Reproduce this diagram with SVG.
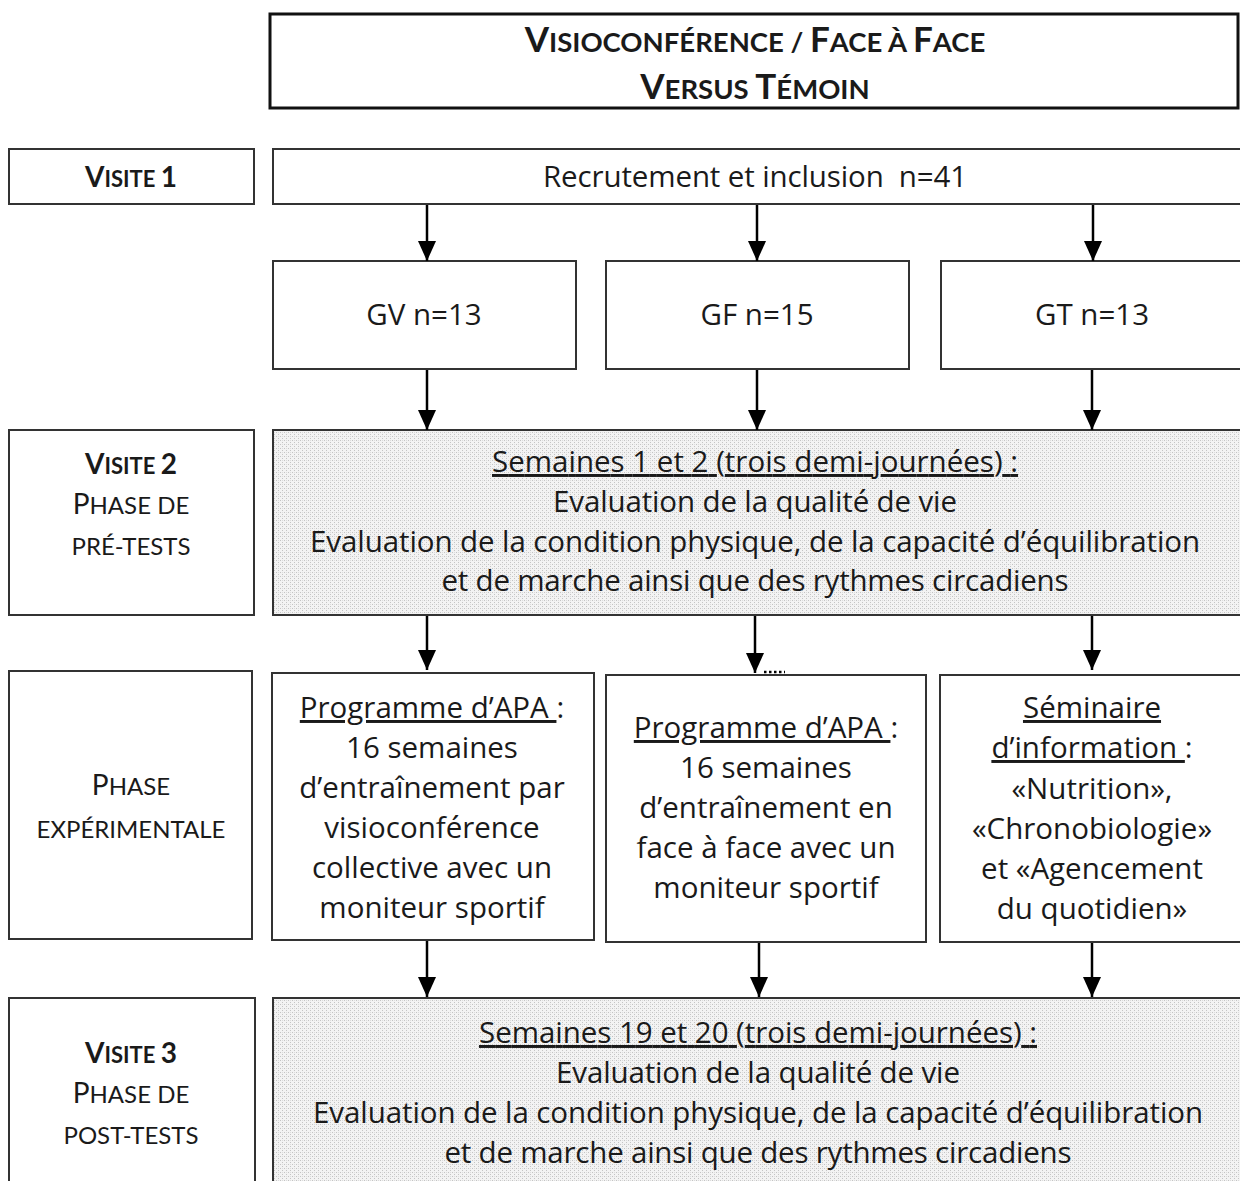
<svg xmlns="http://www.w3.org/2000/svg" width="1240" height="1181" viewBox="0 0 1240 1181">
<defs>
<pattern id="dots" width="4" height="4" patternUnits="userSpaceOnUse">
<rect width="4" height="4" fill="#f3f3f3"/>
<rect x="0" y="0" width="1" height="1" fill="#c4c4c4"/>
<rect x="2" y="2" width="1" height="1" fill="#c4c4c4"/>
<rect x="2" y="0" width="1" height="1" fill="#dcdcdc"/>
</pattern>
<marker id="ah" viewBox="0 0 20 18" refX="20" refY="9" markerWidth="20" markerHeight="18" markerUnits="userSpaceOnUse" orient="auto">
<path d="M0,0 L20,9 L0,18 z" fill="#000"/>
</marker>
<style>
.box{fill:#fff;stroke:#333;stroke-width:2}
.pbox{fill:url(#dots);stroke:#333;stroke-width:2}
.t{font-family:"Open Sans","Liberation Sans",sans-serif;font-size:29.5px;fill:#1a1a1a;text-anchor:middle}
.l{font-family:Lato,"Liberation Sans",sans-serif}
.b{font-weight:bold}
.big{font-size:28px}
.sm{font-size:22px}
.sm2{font-size:24px}
.tb{font-size:35px}
.ts{font-size:27.5px}
.u{text-decoration:underline}
.arr{stroke:#000;stroke-width:2.5;fill:none;marker-end:url(#ah)}
</style>
</defs>
<rect width="1240" height="1181" fill="#fff"/>

<g id="title">
<rect x="270" y="14" width="968" height="94" fill="#fff" stroke="#111" stroke-width="3"/>
<text class="t l b" x="755" y="52"><tspan class="tb">V</tspan><tspan class="ts">ISIOCONFÉRENCE / </tspan><tspan class="tb">F</tspan><tspan class="ts">ACE À </tspan><tspan class="tb">F</tspan><tspan class="ts">ACE</tspan></text>
<text class="t l b" x="755" y="99"><tspan class="tb">V</tspan><tspan class="ts">ERSUS </tspan><tspan class="tb">T</tspan><tspan class="ts">ÉMOIN</tspan></text>
</g>

<g id="visite1">
<rect class="box" x="9" y="149" width="245" height="55"/>
<text class="t l b" x="131" y="187"><tspan class="big">V</tspan><tspan class="sm">ISITE </tspan><tspan class="big">1</tspan></text>
</g>
<g id="recrutement">
<rect class="box" x="273" y="149" width="970" height="55"/>
<text class="t" x="755" y="187" xml:space="preserve" textLength="424">Recrutement et inclusion  n=41</text>
</g>

<g id="gv">
<rect class="box" x="273" y="261" width="303" height="108"/>
<text class="t" x="424" y="325">GV n=13</text>
</g>
<g id="gf">
<rect class="box" x="606" y="261" width="303" height="108"/>
<text class="t" x="757" y="325">GF n=15</text>
</g>
<g id="gt">
<rect class="box" x="941" y="261" width="302" height="108"/>
<text class="t" x="1092" y="325">GT n=13</text>
</g>

<g id="visite2">
<rect class="box" x="9" y="430" width="245" height="185"/>
<text class="t l b" x="131" y="474"><tspan class="big">V</tspan><tspan class="sm">ISITE </tspan><tspan class="big">2</tspan></text>
<text class="t l" x="131" y="514"><tspan class="big">P</tspan><tspan class="sm2">HASE DE</tspan></text>
<text class="t l" x="131" y="555"><tspan class="sm2">PRÉ-TESTS</tspan></text>
</g>
<g id="pretests">
<rect class="pbox" x="273" y="430" width="970" height="185"/>
<text class="t" x="755" y="472"><tspan class="u" textLength="526">Semaines 1 et 2 (trois demi-journées) :</tspan></text>
<text class="t" x="755" y="512" textLength="404">Evaluation de la qualité de vie</text>
<text class="t" x="755" y="552" textLength="890">Evaluation de la condition physique, de la capacité d’équilibration</text>
<text class="t" x="755" y="591" textLength="627">et de marche ainsi que des rythmes circadiens</text>
</g>

<g id="phase-exp">
<rect class="box" x="9" y="671" width="243" height="268"/>
<text class="t l" x="131" y="795"><tspan class="big">P</tspan><tspan class="sm2">HASE</tspan></text>
<text class="t l" x="131" y="838"><tspan class="sm2">EXPÉRIMENTALE</tspan></text>
</g>
<g id="prog-gv">
<rect class="box" x="272" y="673" width="322" height="267"/>
<text class="t" x="432" y="718"><tspan class="u">Programme d’APA </tspan>:</text>
<text class="t" x="432" y="758">16 semaines</text>
<text class="t" x="432" y="798">d’entraînement par</text>
<text class="t" x="432" y="838">visioconférence</text>
<text class="t" x="432" y="878">collective avec un</text>
<text class="t" x="432" y="918">moniteur sportif</text>
</g>
<g id="prog-gf">
<rect class="box" x="606" y="675" width="320" height="267"/>
<text class="t" x="766" y="738"><tspan class="u">Programme d’APA </tspan>:</text>
<text class="t" x="766" y="778">16 semaines</text>
<text class="t" x="766" y="818">d’entraînement en</text>
<text class="t" x="766" y="858">face à face avec un</text>
<text class="t" x="766" y="898">moniteur sportif</text>
</g>
<g id="seminaire">
<rect class="box" x="940" y="675" width="303" height="267"/>
<text class="t" x="1092" y="718"><tspan class="u">Séminaire</tspan></text>
<text class="t" x="1092" y="758"><tspan class="u">d’information </tspan>:</text>
<text class="t" x="1092" y="799">«Nutrition»,</text>
<text class="t" x="1092" y="839">«Chronobiologie»</text>
<text class="t" x="1092" y="879">et «Agencement</text>
<text class="t" x="1092" y="919">du quotidien»</text>
</g>

<g id="visite3">
<rect class="box" x="9" y="998" width="246" height="200"/>
<text class="t l b" x="131" y="1063"><tspan class="big">V</tspan><tspan class="sm">ISITE </tspan><tspan class="big">3</tspan></text>
<text class="t l" x="131" y="1103"><tspan class="big">P</tspan><tspan class="sm2">HASE DE</tspan></text>
<text class="t l" x="131" y="1144"><tspan class="sm2">POST-TESTS</tspan></text>
</g>
<g id="posttests">
<rect class="pbox" x="273" y="998" width="970" height="200"/>
<text class="t" x="758" y="1043"><tspan class="u" textLength="558">Semaines 19 et 20 (trois demi-journées) :</tspan></text>
<text class="t" x="758" y="1083" textLength="404">Evaluation de la qualité de vie</text>
<text class="t" x="758" y="1123" textLength="890">Evaluation de la condition physique, de la capacité d’équilibration</text>
<text class="t" x="758" y="1163" textLength="627">et de marche ainsi que des rythmes circadiens</text>
</g>

<g id="connectors">
<line class="arr" x1="427" y1="205" x2="427" y2="261"/>
<line class="arr" x1="757" y1="205" x2="757" y2="261"/>
<line class="arr" x1="1093" y1="205" x2="1093" y2="261"/>
<line class="arr" x1="427" y1="370" x2="427" y2="430"/>
<line class="arr" x1="757" y1="370" x2="757" y2="430"/>
<line class="arr" x1="1092" y1="370" x2="1092" y2="430"/>
<line class="arr" x1="427" y1="616" x2="427" y2="670"/>
<line class="arr" x1="755" y1="616" x2="755" y2="673"/>
<line x1="764" y1="672" x2="785" y2="672" stroke="#000" stroke-width="2.5" stroke-dasharray="2.5,2.5"/>
<line class="arr" x1="1092" y1="616" x2="1092" y2="670"/>
<line class="arr" x1="427" y1="941" x2="427" y2="997"/>
<line class="arr" x1="759" y1="943" x2="759" y2="997"/>
<line class="arr" x1="1092" y1="943" x2="1092" y2="997"/>
</g>
</svg>
